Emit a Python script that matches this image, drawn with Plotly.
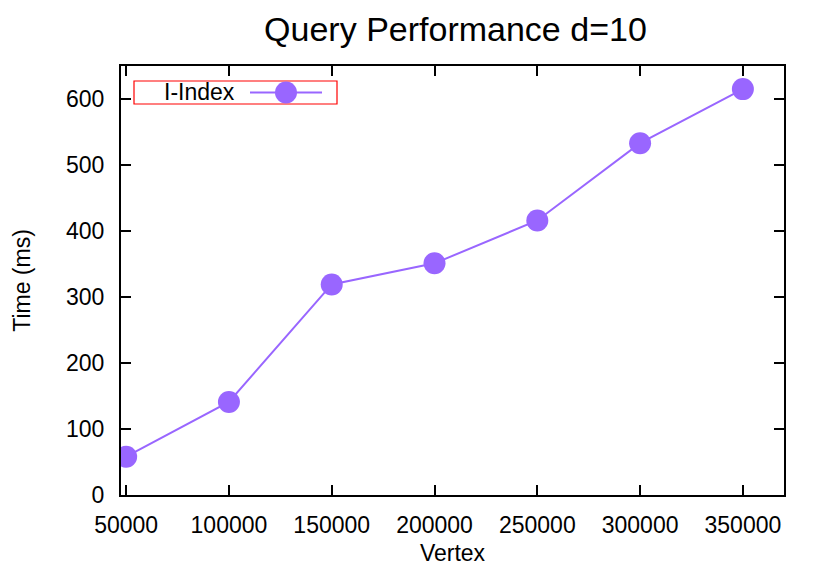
import plotly.graph_objects as go

vertex = [50000, 100000, 150000, 200000, 250000, 300000, 350000]
time_ms = [58, 141, 319, 351, 416, 533, 615]
series_name = 'I-Index'
y_ticks = [0, 100, 200, 300, 400, 500, 600]

maincolor = '#9966ff'
font = 'Liberation Sans, Arial, sans-serif'

# page body adds 8px offset, so the figure is 823x568 and margins are shifted
margin = go.layout.Margin(l=113, r=47, t=58, b=81, pad=0)

data = [go.Scatter(x=vertex, y=time_ms, name=series_name,
                   mode='lines+markers',
                   line={'color': maincolor, 'width': 2},
                   marker={'color': maincolor, 'size': 22},
                   showlegend=False)]

axis_style = dict(showline=True, linecolor='black', linewidth=2, mirror='allticks',
                  ticks='inside', ticklen=10, tickwidth=2, tickcolor='black',
                  showgrid=False, zeroline=False,
                  tickfont={'size': 23, 'color': 'black', 'family': font})

layout = go.Layout(
    width=823, height=568,
    paper_bgcolor='white', plot_bgcolor='white',
    margin=margin,
    title={'text': 'Query Performance d=10', 'x': 0.5437, 'xanchor': 'center',
           'y': 0.962, 'yanchor': 'middle',
           'font': {'size': 34, 'color': 'black', 'family': font}},
    xaxis=dict(range=[47500, 370000], tickvals=vertex, ticktext=[str(v) for v in vertex],
               ticklabelstandoff=8,
               title={'text': 'Vertex', 'font': {'size': 23, 'color': 'black', 'family': font},
                      'standoff': 8},
               **axis_style),
    yaxis=dict(range=[0, 650], tickvals=y_ticks, ticklabelstandoff=10,
               title={'text': 'Time (ms)', 'font': {'size': 23, 'color': 'black', 'family': font},
                      'standoff': 29},
               **axis_style),
)

fig = go.Figure(data=data, layout=layout)

# gnuplot-style key: text on the left, sample on the right, red frame
# coordinates below are screenshot pixels; plot area spans x 121..784, y 66..495
pw = 784 - 121
ph = 495 - 66
def px(x): return (x - 121) / pw
def py(y): return (495 - y) / ph

fig.add_shape(type='rect', xref='paper', yref='paper',
              x0=px(134), x1=px(337), y0=py(104), y1=py(81),
              line={'color': 'red', 'width': 1.2}, fillcolor='white')
fig.add_shape(type='line', xref='paper', yref='paper',
              x0=px(250), x1=px(322), y0=py(92.5), y1=py(92.5),
              line={'color': maincolor, 'width': 2})
fig.add_shape(type='circle', xref='paper', yref='paper',
              x0=px(275), x1=px(297), y0=py(103.5), y1=py(81.5),
              line={'color': maincolor, 'width': 0}, fillcolor=maincolor)
fig.add_annotation(text=series_name, xref='paper', yref='paper',
                   x=px(237), y=py(92.5), xanchor='right', yanchor='middle',
                   showarrow=False, font={'size': 23, 'color': 'black', 'family': font})

fig.write_html("out.html")
